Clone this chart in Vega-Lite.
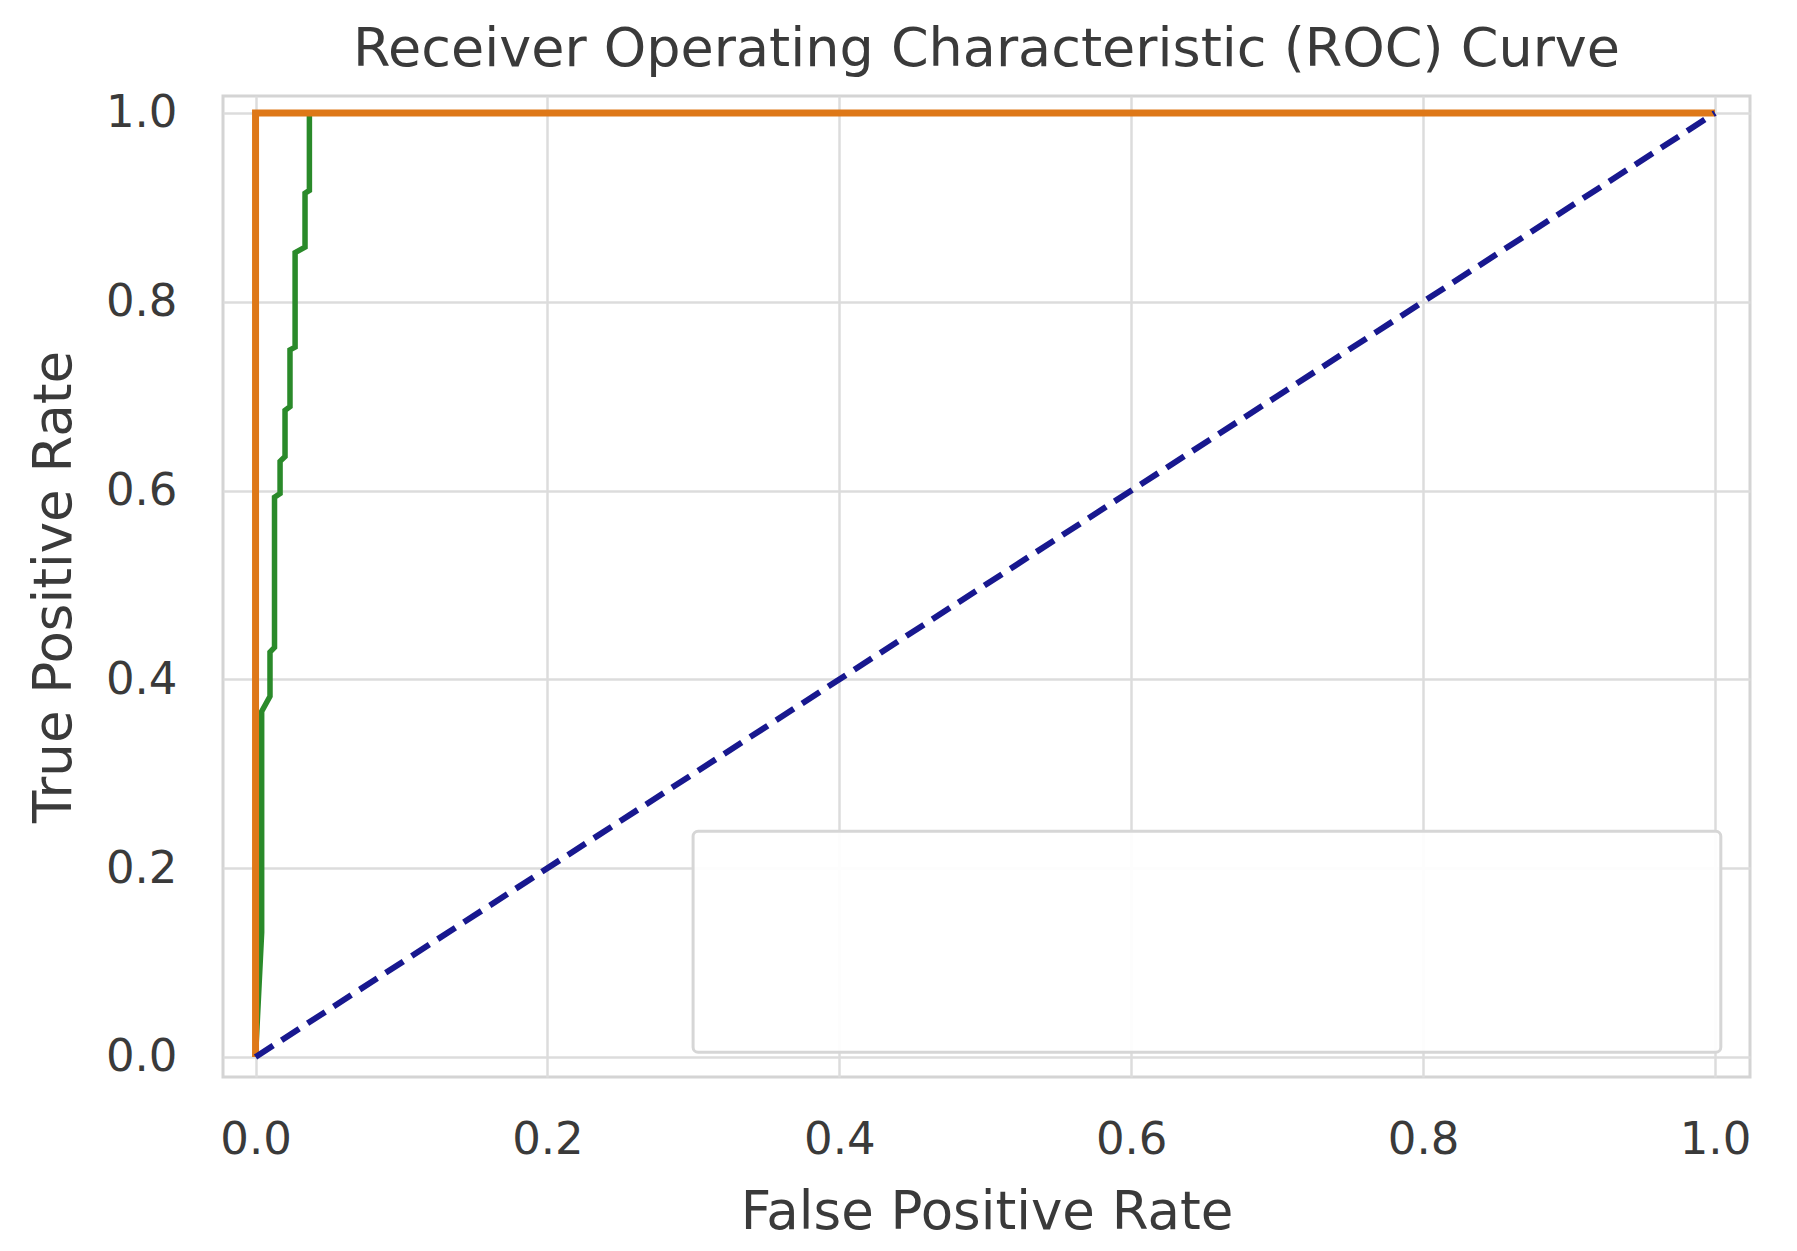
{
  "$schema": "https://vega.github.io/schema/vega-lite/v6.json",
  "width": 1527,
  "height": 981,
  "autosize": {"type": "none"},
  "padding": {"left": 223, "top": 96, "right": 47, "bottom": 174},
  "background": "white",
  "title": {
    "text": "Receiver Operating Characteristic (ROC) Curve",
    "font": "DejaVu Sans",
    "fontSize": 54,
    "fontWeight": "normal",
    "color": "#3a3a3a",
    "anchor": "middle",
    "baseline": "bottom",
    "offset": 18,
    "dy": 58
  },
  "config": {
    "view": {"stroke": "#d4d4d4", "strokeWidth": 3},
    "axis": {
      "domain": false,
      "ticks": false,
      "grid": true,
      "gridColor": "#dcdcdc",
      "gridWidth": 2.5,
      "labelFont": "DejaVu Sans",
      "labelFontSize": 45,
      "labelColor": "#3a3a3a",
      "titleFont": "DejaVu Sans",
      "titleFontSize": 53,
      "titleFontWeight": "normal",
      "titleColor": "#3a3a3a"
    }
  },
  "datasets": {
    "green": [
      {"i": 0, "fpr": 0, "tpr": 0},
      {"i": 1, "fpr": 0.0042, "tpr": 0.132},
      {"i": 2, "fpr": 0.0042, "tpr": 0.366},
      {"i": 3, "fpr": 0.0099, "tpr": 0.382},
      {"i": 4, "fpr": 0.0099, "tpr": 0.429},
      {"i": 5, "fpr": 0.013, "tpr": 0.434},
      {"i": 6, "fpr": 0.013, "tpr": 0.593},
      {"i": 7, "fpr": 0.0168, "tpr": 0.597},
      {"i": 8, "fpr": 0.0168, "tpr": 0.631},
      {"i": 9, "fpr": 0.0202, "tpr": 0.636},
      {"i": 10, "fpr": 0.0202, "tpr": 0.685},
      {"i": 11, "fpr": 0.0236, "tpr": 0.689},
      {"i": 12, "fpr": 0.0236, "tpr": 0.749},
      {"i": 13, "fpr": 0.0271, "tpr": 0.752},
      {"i": 14, "fpr": 0.0271, "tpr": 0.852},
      {"i": 15, "fpr": 0.0339, "tpr": 0.858},
      {"i": 16, "fpr": 0.0339, "tpr": 0.915},
      {"i": 17, "fpr": 0.0369, "tpr": 0.918},
      {"i": 18, "fpr": 0.0369, "tpr": 1.0},
      {"i": 19, "fpr": 1.0, "tpr": 1.0}
    ],
    "orange": [
      {"i": 0, "fpr": 0, "tpr": 0},
      {"i": 1, "fpr": 0, "tpr": 1},
      {"i": 2, "fpr": 1, "tpr": 1}
    ],
    "chance": [
      {"i": 0, "fpr": 0, "tpr": 0},
      {"i": 1, "fpr": 1, "tpr": 1}
    ],
    "legendbox": [
      {"x0": 0.2998, "x1": 1.004, "y0": 0.239, "y1": 0.005}
    ]
  },
  "layer": [
    {
      "data": {"name": "green"},
      "mark": {"type": "line", "color": "#2a8a2a", "strokeWidth": 5.5, "clip": true},
      "encoding": {
        "x": {
          "field": "fpr",
          "type": "quantitative",
          "title": "False Positive Rate",
          "scale": {"domain": [-0.0223, 1.024], "nice": false, "zero": false},
          "axis": {"values": [0, 0.2, 0.4, 0.6, 0.8, 1.0], "format": ".1f", "labelPadding": 40, "titlePadding": 24}
        },
        "y": {
          "field": "tpr",
          "type": "quantitative",
          "title": "True Positive Rate",
          "scale": {"domain": [-0.0212, 1.018], "nice": false, "zero": false},
          "axis": {"values": [0, 0.2, 0.4, 0.6, 0.8, 1.0], "format": ".1f", "labelPadding": 46, "titlePadding": 24}
        },
        "order": {"field": "i", "type": "quantitative"}
      }
    },
    {
      "data": {"name": "orange"},
      "mark": {"type": "line", "color": "#de7818", "strokeWidth": 7, "clip": true},
      "encoding": {
        "x": {"field": "fpr", "type": "quantitative"},
        "y": {"field": "tpr", "type": "quantitative"},
        "order": {"field": "i", "type": "quantitative"}
      }
    },
    {
      "data": {"name": "chance"},
      "mark": {"type": "line", "color": "#18188f", "strokeWidth": 6, "strokeDash": [21, 10], "clip": true},
      "encoding": {
        "x": {"field": "fpr", "type": "quantitative"},
        "y": {"field": "tpr", "type": "quantitative"},
        "order": {"field": "i", "type": "quantitative"}
      }
    },
    {
      "data": {"name": "legendbox"},
      "mark": {"type": "rect", "fill": "white", "fillOpacity": 0.92, "stroke": "#d6d6d6", "strokeWidth": 3, "cornerRadius": 5},
      "encoding": {
        "x": {"field": "x0", "type": "quantitative"},
        "x2": {"field": "x1"},
        "y": {"field": "y0", "type": "quantitative"},
        "y2": {"field": "y1"}
      }
    }
  ]
}
